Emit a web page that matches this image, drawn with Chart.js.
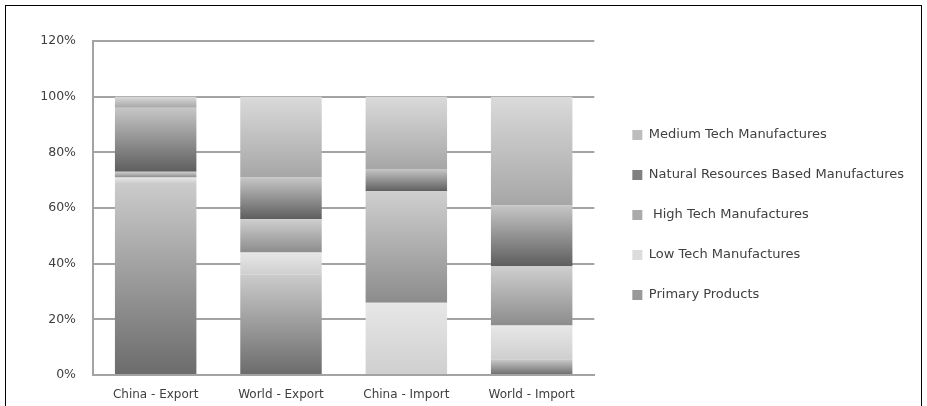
<!DOCTYPE html>
<html>
<head>
<meta charset="utf-8">
<script src="https://cdn.jsdelivr.net/npm/chart.js@4.4.1/dist/chart.umd.min.js"></script>
<style>
    html, body { margin: 0; padding: 0; background: #fff; }
    #wrap { position: relative; width: 927px; height: 406px; overflow: hidden; }
    #frame { position: absolute; left: 5px; top: 5px; width: 917px; height: 430px; border: 1px solid #000; box-sizing: border-box; }
    canvas { position: absolute; left: 0; top: 0; }
</style>
</head>
<body>
<div id="wrap">
    <div id="frame"></div>
    <canvas id="chart" width="927" height="406"></canvas>
</div>
<script>
// Categories and shares (%), bottom of the stack first
const categories = ['China - Export', 'World - Export', 'China - Import', 'World - Import'];
const primaryProducts = [69, 36, 0, 5.7];
const lowTech = [2, 8, 26, 12.1];
const highTech = [2, 12, 40, 21.4];
const naturalResources = [23, 15, 8, 21.7];
const mediumTech = [4, 29, 26, 39.1];
const yTicks = [0, 20, 40, 60, 80, 100, 120];

const seriesList = [
    { label: 'Primary Products', data: primaryProducts, top: '#cbcbcb', bottom: '#6b6b6b', swatch: '#999999' },
    { label: 'Low Tech Manufactures', data: lowTech, top: '#e7e7e7', bottom: '#cfcfcf', swatch: '#dcdcdc' },
    { label: ' High Tech Manufactures', data: highTech, top: '#cfcfcf', bottom: '#8c8c8c', swatch: '#aaaaaa' },
    { label: 'Natural Resources Based Manufactures', data: naturalResources, top: '#c6c6c6', bottom: '#5e5e5e', swatch: '#808080' },
    { label: 'Medium Tech Manufactures', data: mediumTech, top: '#dadada', bottom: '#a6a6a6', swatch: '#bdbdbd' }
];

const FONT = 'DejaVu Sans';
const TEXT = '#404040';
const GRID = '#a3a3a3';

// Each stacked segment gets its own vertical gradient, light on top
function segmentFill(s, dsIndex) {
    return function(ctx) {
        const chart = ctx.chart;
        if (ctx.type !== 'data' || !chart.chartArea) return s.swatch;
        const i = ctx.dataIndex;
        let start = 0;
        for (let k = 0; k < dsIndex; k++) start += seriesList[k].data[i];
        const end = start + s.data[i];
        const y = chart.scales.y;
        const yTop = y.getPixelForValue(end);
        const yBot = y.getPixelForValue(start);
        if (!(yBot - yTop > 0)) return s.swatch;
        const g = chart.ctx.createLinearGradient(0, yTop, 0, yBot);
        g.addColorStop(0, s.top);
        g.addColorStop(1, s.bottom);
        return g;
    };
}

const chart = new Chart(document.getElementById('chart').getContext('2d'), {
    type: 'bar',
    data: {
        labels: categories,
        datasets: seriesList.map((s, i) => ({
            label: s.label,
            data: s.data,
            backgroundColor: segmentFill(s, i),
            borderWidth: 0,
            barPercentage: 0.65,
            categoryPercentage: 1
        }))
    },
    options: {
        responsive: false,
        animation: false,
        layout: { padding: { top: 24, right: 13, bottom: 0, left: 0 } },
        plugins: {
            title: {
                display: true,
                text: ' ',
                fullSize: false,
                font: { size: 10, lineHeight: 1.2 },
                padding: { top: 0, bottom: 5 }
            },
            tooltip: { enabled: false },
            legend: {
                position: 'right',
                align: 'center',
                reverse: true,
                maxWidth: 340,
                labels: {
                    boxWidth: 10,
                    boxHeight: 10,
                    padding: 27,
                    color: TEXT,
                    font: { family: FONT, size: 13 },
                    generateLabels(c) {
                        return seriesList.map((s, i) => ({
                            text: s.label,
                            fillStyle: s.swatch,
                            strokeStyle: s.swatch,
                            lineWidth: 0,
                            fontColor: TEXT,
                            hidden: false,
                            datasetIndex: i
                        }));
                    }
                }
            }
        },
        scales: {
            x: {
                stacked: true,
                grid: { display: false },
                border: { display: true, color: GRID, width: 2 },
                ticks: { color: TEXT, font: { family: FONT, size: 12 }, padding: 5 },
                afterFit(s) { s.height = 31; }
            },
            y: {
                stacked: true,
                min: 0,
                max: 120,
                afterBuildTicks(s) { s.ticks = yTicks.map(v => ({ value: v })); },
                grid: { color: GRID, lineWidth: 2, drawTicks: false },
                border: { display: true, color: GRID, width: 2 },
                ticks: {
                    color: TEXT,
                    font: { family: FONT, size: 12.5 },
                    padding: 17,
                    callback: v => v + '%'
                },
                afterFit(s) { s.width = 93; }
            },
            gap: {
                position: 'right',
                display: true,
                grid: { display: false },
                border: { display: false },
                ticks: { display: false },
                afterFit(s) { s.width = 11; }
            }
        }
    }
});
</script>
</body>
</html>
